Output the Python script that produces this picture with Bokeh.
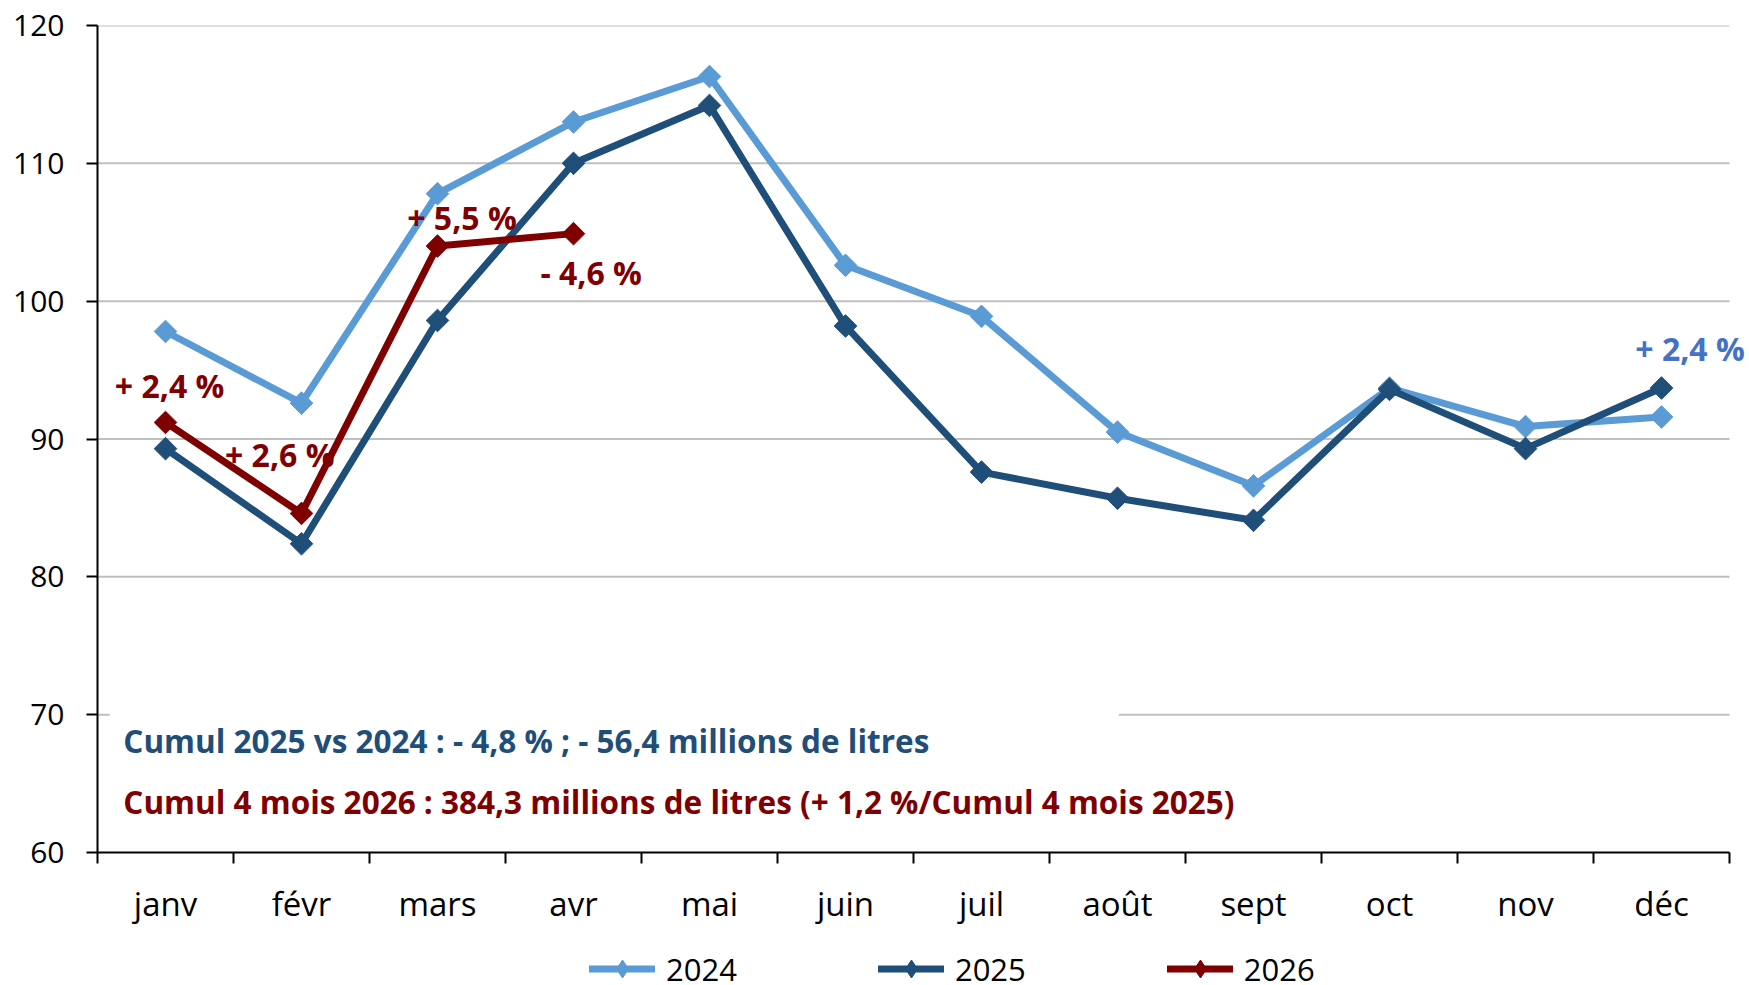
from bokeh.plotting import figure
from bokeh.models import FixedTicker, Legend, LegendItem
from bokeh.layouts import column
from bokeh.core.properties import value
from bokeh.embed import file_html
from bokeh.resources import INLINE
import numpy as np

months = ["janv", "févr", "mars", "avr", "mai", "juin", "juil", "août", "sept", "oct", "nov", "déc"]
v2024 = [97.8, 92.6, 107.8, 113.0, 116.3, 102.6, 98.9, 90.5, 86.6, 93.7, 90.9, 91.6]
v2025 = [89.3, 82.4, 98.6, 110.0, 114.2, 98.2, 87.6, 85.7, 84.1, 93.6, 89.3, 93.7]
v2026 = [91.2, 84.6, 104.0, 104.9]
series_names = ["2024", "2025", "2026"]
y_ticks = [60, 70, 80, 90, 100, 110, 120]

ann_text = ["+ 2,4 %", "+ 2,6 %", "+ 5,5 %", "- 4,6 %"]
ann_x = [1.03, 1.84, 3.18, 4.13]
ann_y = [93.9, 88.9, 106.1, 102.1]

note1 = "Cumul 2025 vs 2024 :  - 4,8 % ; - 56,4 millions de litres"
note2 = "Cumul 4 mois 2026 : 384,3 millions de litres (+ 1,2 %/Cumul 4 mois 2025)"
note_dec = "+ 2,4 %"

C24 = "#5B9BD5"
C25 = "#1F4E79"
C26 = "#7F0000"
CDEC = "#4472C4"
FONT = "Open Sans"

x = list(range(1, 13))
XMIN, XMAX = 0.5, 12.5

p = figure(width=1749, height=952, output_backend="svg", toolbar_location=None,
           x_range=(XMIN, XMAX + 16 / 136), y_range=(60, 120),
           min_border_left=97, min_border_top=25, min_border_right=4, min_border_bottom=100)
p.outline_line_color = None

# axes
p.xaxis.bounds = (XMIN, XMAX)
p.xaxis.ticker = FixedTicker(ticks=x, minor_ticks=[i + 0.5 for i in range(0, 13)])
p.xaxis.major_label_overrides = {i + 1: m for i, m in enumerate(months)}
p.xaxis.major_tick_line_color = None
p.xaxis.minor_tick_line_color = "black"
p.xaxis.minor_tick_line_width = 2
p.xaxis.minor_tick_out = 11
p.xaxis.minor_tick_in = 0
p.xaxis.axis_line_color = "black"
p.xaxis.axis_line_width = 2
p.xaxis.major_label_standoff = 17
p.xaxis.major_label_text_font = FONT
p.xaxis.major_label_text_font_size = "33px"
p.xaxis.major_label_text_color = "black"

p.yaxis.ticker = FixedTicker(ticks=y_ticks, minor_ticks=[])
p.yaxis.major_tick_line_color = "black"
p.yaxis.major_tick_line_width = 2
p.yaxis.major_tick_out = 11
p.yaxis.major_tick_in = 0
p.yaxis.axis_line_color = "black"
p.yaxis.axis_line_width = 2
p.yaxis.major_label_standoff = 22
p.yaxis.major_label_text_font = FONT
p.yaxis.major_label_text_font_size = "30px"
p.yaxis.major_label_text_color = "black"

p.grid.visible = False
# horizontal gridlines limited to the axis extent
gy = y_ticks[1:]
p.segment(x0=[XMIN] * len(gy), x1=[XMAX] * len(gy), y0=gy, y1=gy,
          line_color="#BFBFBF", line_width=2)

# white text box hiding the 70 gridline
p.quad(left=[0.59], right=[8.01], bottom=[61.5], top=[71.0], fill_color="white", line_color=None)

LW = 7
MS = 16
p.line(x, v2024, line_color=C24, line_width=LW, line_join="round")
p.scatter(x, v2024, marker="square", size=MS, angle=np.pi / 4, fill_color=C24, line_color=C24)
p.line(x, v2025, line_color=C25, line_width=LW, line_join="round")
p.scatter(x, v2025, marker="square", size=MS, angle=np.pi / 4, fill_color=C25, line_color=C25)
x26 = x[:len(v2026)]
p.line(x26, v2026, line_color=C26, line_width=LW, line_join="round")
p.scatter(x26, v2026, marker="square", size=MS, angle=np.pi / 4, fill_color=C26, line_color=C26)

TF = "32px"
NF = "31.5px"
p.text(x=ann_x, y=ann_y, text=ann_text, text_color=C26, text_font=value(FONT),
       text_font_style="bold", text_font_size=TF, text_align="center", text_baseline="middle")
p.text(x=[12.21], y=[96.6], text=[note_dec], text_color=CDEC, text_font=value(FONT),
       text_font_style="bold", text_font_size=TF, text_align="center", text_baseline="middle")
p.text(x=[0.69], y=[68.1], text=[note1], text_color=C25, text_font=value(FONT),
       text_font_style="bold", text_font_size=NF, text_align="left", text_baseline="middle")
p.text(x=[0.69], y=[63.7], text=[note2], text_color=C26, text_font=value(FONT),
       text_font_style="bold", text_font_size=NF, text_align="left", text_baseline="middle")

# legend strip (frame aligned with the main plot's frame by the column layout)
p2 = figure(width=1749, height=33, output_backend="svg", toolbar_location=None,
            x_range=(0, 1), y_range=(0, 1), min_border=0,
            x_axis_location=None, y_axis_location=None)
p2.grid.visible = False
p2.outline_line_color = None
items = []
for name, col in zip(series_names, [C24, C25, C26]):
    r1 = p2.line([np.nan], [np.nan], line_color=col, line_width=7, line_cap="round")
    r2 = p2.scatter([np.nan], [np.nan], marker="diamond", fill_color=col, line_color=col)
    items.append(LegendItem(label=name, renderers=[r1, r2]))
legend = Legend(items=items, orientation="horizontal", location=(492, -6),
                glyph_width=66, glyph_height=45, label_height=45, label_standoff=11, spacing=141,
                padding=0, margin=0, border_line_color=None, background_fill_alpha=0,
                label_text_font=FONT, label_text_font_size="31px", label_text_color="black")
p2.add_layout(legend, "center")

open("out.html", "w").write(file_html(column(p, p2, spacing=0), INLINE))
